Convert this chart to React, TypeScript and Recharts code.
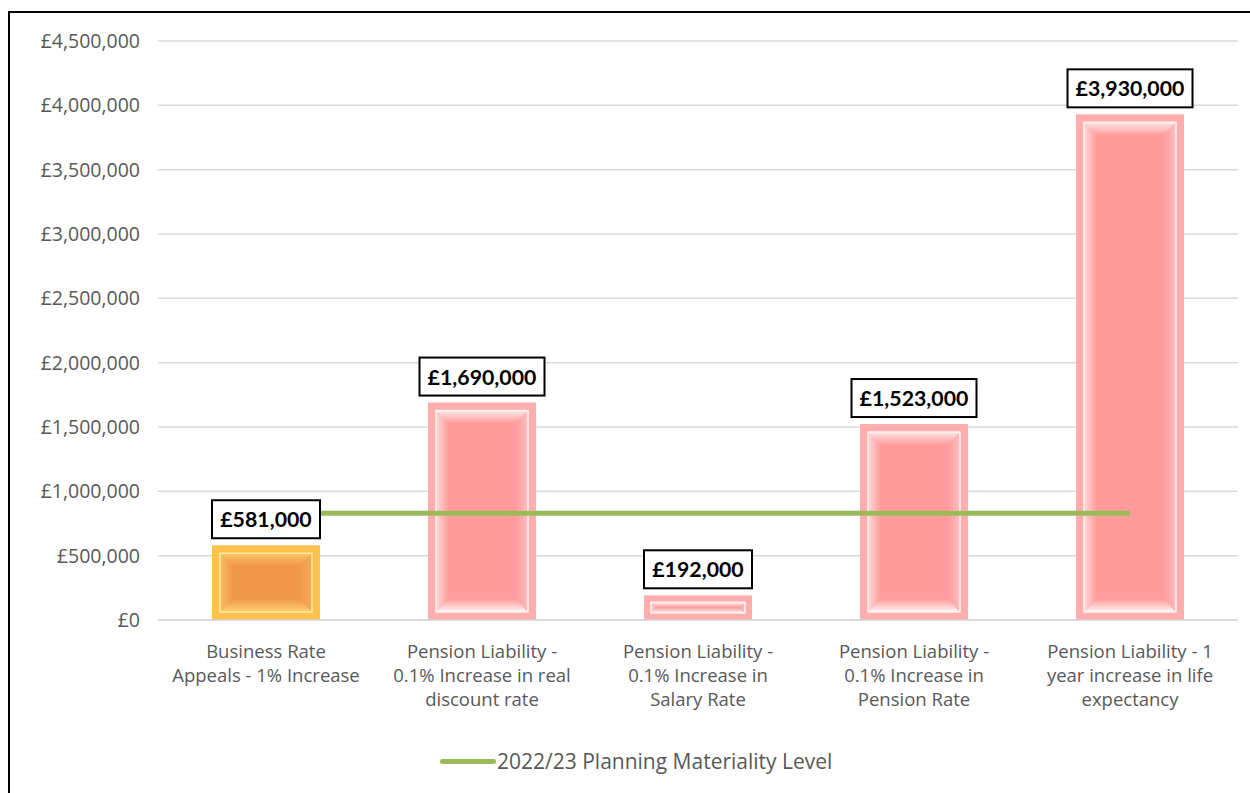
import { Bar, CartesianGrid, Cell, ComposedChart, LabelList, Legend, Line, XAxis, YAxis } from 'recharts';

const categories = [
  'Business Rate Appeals - 1% Increase',
  'Pension Liability - 0.1% Increase in real discount rate',
  'Pension Liability - 0.1% Increase in Salary Rate',
  'Pension Liability - 0.1% Increase in Pension Rate',
  'Pension Liability - 1 year increase in life expectancy',
];
const categoryLines = [
  ['Business Rate', 'Appeals - 1% Increase'],
  ['Pension Liability -', '0.1% Increase in real', 'discount rate'],
  ['Pension Liability -', '0.1% Increase in', 'Salary Rate'],
  ['Pension Liability -', '0.1% Increase in', 'Pension Rate'],
  ['Pension Liability - 1', 'year increase in life', 'expectancy'],
];
const impactValues = [581000, 1690000, 192000, 1523000, 3930000];
const materialityValues = [830000, 830000, 830000, 830000, 830000];
const yTicks = [0, 500000, 1000000, 1500000, 2000000, 2500000, 3000000, 3500000, 4000000, 4500000];
const legendLabel = '2022/23 Planning Materiality Level';

const data = categories.map((name, i) => ({
  name,
  impact: impactValues[i],
  materiality: materialityValues[i],
}));

const fontFamily = '"Open Sans", "Liberation Sans", sans-serif';
const boldFont = 'Lato, "Liberation Sans", sans-serif';
const money = (v: number) => '£' + v.toLocaleString('en-GB');

const palettes: Record<string, { edge: string; frame: string; glow: string; face: string }> = {
  orange: { edge: '#ffc24c', frame: '#ffeaa6', glow: '#ffd870', face: '#f1974a' },
  pink: { edge: '#ffadad', frame: '#fff4f4', glow: '#ffffff', face: '#ff9b9b' },
};

function BevelBar(props: any) {
  const { x, y, width, height, fill, index } = props;
  if (!height || height <= 0) return null;
  const key = fill in palettes ? fill : 'pink';
  const p = palettes[key];
  const d = Math.min(8, height / 3.5);
  const ix = x + d;
  const iy = y + d;
  const iw = Math.max(0, width - 2 * d);
  const ih = Math.max(0, height - 2 * d);
  const b = Math.min(13, iw / 2, ih / 2);
  const id = `bv-${key}-${index}`;
  return (
    <g>
      <defs>
        <linearGradient id={`${id}-t`} x1="0" y1="0" x2="0" y2="1">
          <stop offset="0" stopColor={p.glow} stopOpacity={0.75} />
          <stop offset="1" stopColor={p.glow} stopOpacity={0} />
        </linearGradient>
        <linearGradient id={`${id}-b`} x1="0" y1="1" x2="0" y2="0">
          <stop offset="0" stopColor={p.glow} stopOpacity={0.9} />
          <stop offset="1" stopColor={p.glow} stopOpacity={0} />
        </linearGradient>
        <linearGradient id={`${id}-l`} x1="0" y1="0" x2="1" y2="0">
          <stop offset="0" stopColor={p.glow} stopOpacity={0.6} />
          <stop offset="1" stopColor={p.glow} stopOpacity={0} />
        </linearGradient>
        <linearGradient id={`${id}-r`} x1="1" y1="0" x2="0" y2="0">
          <stop offset="0" stopColor={p.glow} stopOpacity={0.35} />
          <stop offset="1" stopColor={p.glow} stopOpacity={0} />
        </linearGradient>
      </defs>
      <rect x={x} y={y} width={width} height={height} fill={p.edge} />
      <rect x={ix} y={iy} width={iw} height={ih} fill={p.face} />
      <polygon points={`${ix},${iy} ${ix + iw},${iy} ${ix + iw - b},${iy + b} ${ix + b},${iy + b}`} fill={`url(#${id}-t)`} />
      <polygon points={`${ix},${iy + ih} ${ix + iw},${iy + ih} ${ix + iw - b},${iy + ih - b} ${ix + b},${iy + ih - b}`} fill={`url(#${id}-b)`} />
      <polygon points={`${ix},${iy} ${ix + b},${iy + b} ${ix + b},${iy + ih - b} ${ix},${iy + ih}`} fill={`url(#${id}-l)`} />
      <polygon points={`${ix + iw},${iy} ${ix + iw - b},${iy + b} ${ix + iw - b},${iy + ih - b} ${ix + iw},${iy + ih}`} fill={`url(#${id}-r)`} />
      <rect x={ix} y={iy} width={iw} height={ih} fill="none" stroke={p.frame} strokeWidth={1.5} />
    </g>
  );
}

function ValueBox(props: any) {
  const { x, y, width, value } = props;
  const text = money(value);
  const w = text.length * 8.5 + 40;
  const h = 38;
  const cx = x + width / 2;
  const top = y - 7 - h;
  return (
    <g>
      <rect x={cx - w / 2} y={top} width={w} height={h} fill="#fff" stroke="#000" strokeWidth={2} />
      <text x={cx} y={top + h / 2} textAnchor="middle" dominantBaseline="central" fontFamily={boldFont} fontWeight={700} fontSize={21.3} fill="#000">
        {text}
      </text>
    </g>
  );
}

// one <text> per category, one <tspan> per line
function CategoryTick(props: any) {
  const { x, y, index } = props;
  const lines = categoryLines[index] || [];
  return (
    <text x={x} y={y + 38} textAnchor="middle" fontFamily={fontFamily} fontSize={18.5} fill="#595959">
      {lines.map((line, i) => (
        <tspan key={i} x={x} dy={i === 0 ? 0 : 24}>
          {line}
        </tspan>
      ))}
    </text>
  );
}

function LegendContent() {
  return (
    <div style={{ height: 43, display: 'flex', alignItems: 'flex-start', marginLeft: 430, fontFamily }}>
      <div style={{ display: 'flex', alignItems: 'center', height: 22 }}>
        <div style={{ width: 56, height: 5, background: '#9bbb59', borderRadius: 3 }} />
        <span style={{ fontSize: 21, color: '#595959', lineHeight: '22px', marginLeft: 1, whiteSpace: 'nowrap' }}>{legendLabel}</span>
      </div>
    </div>
  );
}

export default function App() {
  return (
    <div
      style={{
        position: 'fixed',
        left: 8,
        top: 11,
        width: 1242,
        height: 782,
        borderTop: '2px solid #000',
        borderLeft: '2px solid #000',
        background: '#fff',
        overflow: 'hidden',
      }}
    >
      <ComposedChart width={1240} height={780} data={data} margin={{ top: 28, right: 12, left: 0, bottom: 0 }} barCategoryGap="25%">
        <CartesianGrid vertical={false} stroke="#d9d9d9" strokeWidth={1.5} />
        <XAxis dataKey="name" interval={0} height={130} tickLine={false} tickSize={0} tickMargin={0} axisLine={{ stroke: '#d9d9d9', strokeWidth: 1.5 }} tick={<CategoryTick />} />
        <YAxis
          width={148}
          domain={[0, 4500000]}
          ticks={yTicks}
          tickFormatter={money}
          axisLine={false}
          tickLine={false}
          tickSize={0}
          tickMargin={18}
          tick={{ fontFamily, fontSize: 19.5, fill: '#595959' }}
        />
        <Legend verticalAlign="bottom" content={<LegendContent />} wrapperStyle={{ left: 0, width: 1240, height: 43 }} />
        <Bar dataKey="impact" legendType="none" shape={<BevelBar />} isAnimationActive={false}>
          {data.map((d, i) => (
            <Cell key={d.name} fill={i === 0 ? 'orange' : 'pink'} />
          ))}
          <LabelList dataKey="impact" content={<ValueBox />} />
        </Bar>
        <Line dataKey="materiality" name={legendLabel} stroke="#9bbb59" strokeWidth={5} dot={false} activeDot={false} isAnimationActive={false} />
      </ComposedChart>
    </div>
  );
}
